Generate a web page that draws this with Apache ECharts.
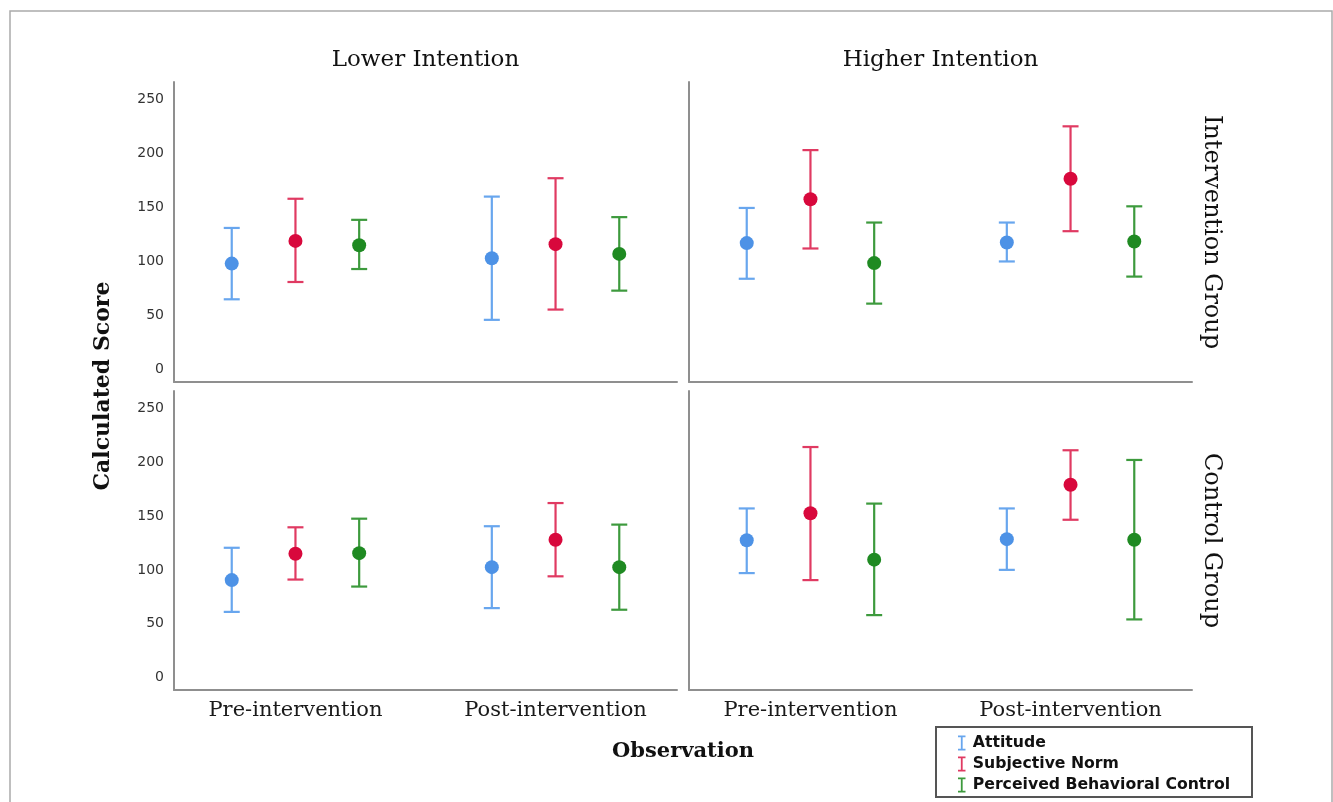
<!DOCTYPE html>
<html>
<head>
<meta charset="utf-8">
<script src="https://cdn.jsdelivr.net/npm/echarts@6/dist/echarts.min.js"></script>
<style>html,body{margin:0;padding:0;background:#fff}#c{width:1333px;height:802px}</style>
</head>
<body>
<div id="c"></div>
<script>
// ---- data ----
const categories = ['Pre-intervention', 'Post-intervention'];
const measures = ['Attitude', 'Subjective Norm', 'Perceived Behavioral Control'];
const colTitles = ['Lower Intention', 'Higher Intention'];
const rowTitles = ['Intervention Group', 'Control Group'];
const yTicks = [0, 50, 100, 150, 200, 250];

// rows: Attitude, Subjective Norm, PBC ; columns: Pre, Post
const lowIntervMean  = [[98, 103], [119, 116], [115, 107]];
const lowIntervLow   = [[65, 46], [81, 55.5], [93, 73]];
const lowIntervHigh  = [[131, 160], [158, 177], [138.5, 141]];

const highIntervMean = [[117, 117.5], [157.5, 176.5], [98.5, 118.5]];
const highIntervLow  = [[84, 100], [112, 128], [61, 86]];
const highIntervHigh = [[149.5, 136], [203, 225], [136, 151]];

const lowCtrlMean    = [[90.5, 102.5], [115, 128], [115.5, 102.5]];
const lowCtrlLow     = [[61, 64.5], [91, 94], [84.5, 63]];
const lowCtrlHigh    = [[120.5, 140.5], [139.5, 162], [147.5, 142]];

const highCtrlMean   = [[127.5, 128.5], [152.5, 179], [109.5, 128]];
const highCtrlLow    = [[97, 100], [90.5, 146.5], [58, 54]];
const highCtrlHigh   = [[157, 157], [214, 211], [161.5, 202]];

// ---- layout / style ----
const panelData = [
  [lowIntervMean, lowIntervLow, lowIntervHigh],
  [highIntervMean, highIntervLow, highIntervHigh],
  [lowCtrlMean, lowCtrlLow, lowCtrlHigh],
  [highCtrlMean, highCtrlLow, highCtrlHigh]
];
const dotColors = ['#4d92e6', '#d8083c', '#1f8a22'];
const barColors = ['#68a6ee', '#e03a62', '#3d9a3d'];
const grids = [
  {left: 174, top: 82, width: 503, height: 300},
  {left: 689, top: 82, width: 503, height: 300},
  {left: 174, top: 391, width: 503, height: 299},
  {left: 689, top: 391, width: 503, height: 299}
];
const axisLine = {show: true, onZero: false, lineStyle: {color: '#8f8f8f', width: 2}};
const serif = 'DejaVu Serif';
const dodge = 0.245;

const xAxes = grids.map((g, i) => ({
  gridIndex: i, type: 'value', min: -0.467, max: 1.467,
  axisLine: axisLine, axisTick: {show: false}, splitLine: {show: false},
  axisLabel: {
    show: i >= 2, customValues: [0, 1],
    formatter: v => categories[Math.round(v)] || '',
    fontFamily: serif, fontSize: 21, color: '#1a1a1a', margin: 10
  }
}));
const yAxes = grids.map((g, i) => ({
  gridIndex: i, type: 'value', min: -11.5, max: 266,
  axisLine: axisLine, axisTick: {show: false}, splitLine: {show: false},
  axisLabel: {
    show: i % 2 === 0, customValues: yTicks,
    fontFamily: 'DejaVu Sans', fontSize: 14, color: '#333', margin: 10
  }
}));

const series = [];
panelData.forEach((pd, p) => {
  const [mean, low, high] = pd;
  measures.forEach((m, k) => {
    series.push({
      type: 'custom', name: m, xAxisIndex: p, yAxisIndex: p,
      itemStyle: {color: dotColors[k]},
      data: categories.map((c, j) => [j, mean[k][j], low[k][j], high[k][j]]),
      renderItem: (params, api) => {
        const x = api.value(0) + (k - 1) * dodge;
        const pm = api.coord([x, api.value(1)]);
        const pl = api.coord([x, api.value(2)]);
        const ph = api.coord([x, api.value(3)]);
        const cw = 8;
        const ls = {stroke: barColors[k], lineWidth: 2.2};
        return {
          type: 'group',
          children: [
            {type: 'line', shape: {x1: pm[0], y1: pl[1], x2: pm[0], y2: ph[1]}, style: ls},
            {type: 'line', shape: {x1: pm[0] - cw, y1: pl[1], x2: pm[0] + cw, y2: pl[1]}, style: ls},
            {type: 'line', shape: {x1: pm[0] - cw, y1: ph[1], x2: pm[0] + cw, y2: ph[1]}, style: ls},
            {type: 'circle', shape: {cx: pm[0], cy: pm[1], r: 7}, style: {fill: dotColors[k]}}
          ]
        };
      }
    });
  });
});

const iPath = 'path://M0,0H10V2.2H6.2V17.8H10V20H0V17.8H3.8V2.2H0Z';

const texts = [];
colTitles.forEach((t, i) => texts.push({
  type: 'text', x: grids[i].left + grids[i].width / 2, y: 60,
  style: {text: t, font: '23px "' + serif + '"', fill: '#111', textAlign: 'center', textVerticalAlign: 'middle'}
}));
rowTitles.forEach((t, i) => texts.push({
  type: 'text', x: 1211, y: grids[i * 2].top + grids[i * 2].height / 2, rotation: -Math.PI / 2,
  style: {text: t, font: '24px "' + serif + '"', fill: '#111', textAlign: 'center', textVerticalAlign: 'middle'}
}));
texts.push({
  type: 'text', x: 103, y: 386, rotation: Math.PI / 2,
  style: {text: 'Calculated Score', font: 'bold 22px "' + serif + '"', fill: '#111', textAlign: 'center', textVerticalAlign: 'middle'}
});
texts.push({
  type: 'text', x: 683, y: 752,
  style: {text: 'Observation', font: 'bold 21px "' + serif + '"', fill: '#111', textAlign: 'center', textVerticalAlign: 'middle'}
});
texts.push({type: 'rect', shape: {x: 10, y: 11, width: 1322, height: 820}, style: {fill: 'none', stroke: '#aaaaaa', lineWidth: 1.5}, silent: true});
texts.push({type: 'rect', shape: {x: 936, y: 727, width: 316, height: 70}, style: {fill: '#fff', stroke: '#555', lineWidth: 2}, z: -1});

const option = {
  animation: false,
  backgroundColor: '#fff',
  grid: grids,
  xAxis: xAxes,
  yAxis: yAxes,
  series: series,
  legend: {
    data: measures.map((m, k) => ({name: m, icon: iPath, itemStyle: {color: barColors[k]}})),
    orient: 'vertical', left: 953, top: 730, itemWidth: 8, itemHeight: 15, itemGap: 5,
    selectedMode: false,
    textStyle: {fontFamily: 'DejaVu Sans', fontWeight: 'bold', fontSize: 15.7, color: '#111', padding: [0, 0, 0, 2]},
    z: 10
  },
  graphic: texts
};
const chart = echarts.init(document.getElementById('c'), null, {renderer: 'canvas'});
chart.setOption(option);
</script>
</body>
</html>
